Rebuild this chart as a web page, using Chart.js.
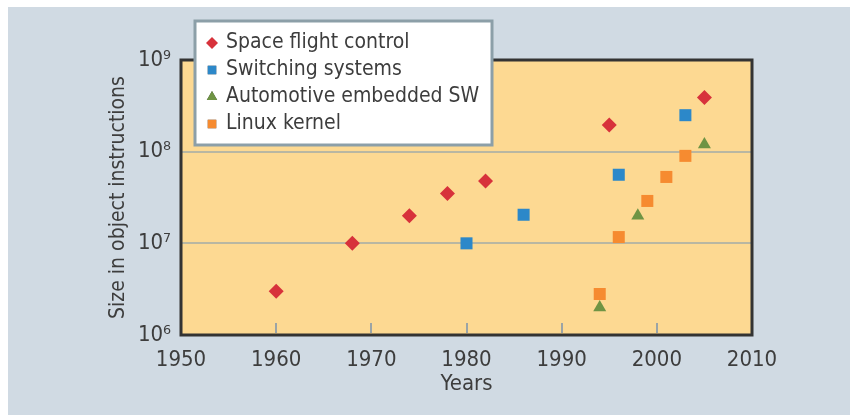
<!DOCTYPE html>
<html lang="en">
<head>
<meta charset="UTF-8">
<title>Software size over the years</title>
<style>
  html, body { margin: 0; padding: 0; background: #fff; }
  canvas { display: block; }
</style>
</head>
<body>
<canvas id="myChart" width="850" height="415"></canvas>
<script src="https://cdn.jsdelivr.net/npm/chart.js@4/dist/chart.umd.min.js"></script>
<script>
  // values
  var seriesNames = ['Space flight control', 'Switching systems', 'Automotive embedded SW', 'Linux kernel'];

  var spaceYears = [1960, 1968, 1974, 1978, 1982, 1995, 2005];
  var spaceSize  = [3e6, 1e7, 2e7, 3.5e7, 4.8e7, 1.95e8, 3.9e8];

  var switchYears = [1980, 1986, 1996, 2003];
  var switchSize  = [1e7, 2.05e7, 5.6e7, 2.5e8];

  var autoYears = [1994, 1998, 2005];
  var autoSize  = [2e6, 2e7, 1.2e8];

  var linuxYears = [1994, 1996, 1999, 2001, 2003];
  var linuxSize  = [2.8e6, 1.17e7, 2.9e7, 5.3e7, 9e7];

  var yearTicks = [1950, 1960, 1970, 1980, 1990, 2000, 2010];
  var sizeTicks = [1e6, 1e7, 1e8, 1e9];
  var sizeTickLabels = ['10\u2076', '10\u2077', '10\u2078', '10\u2079'];

  var FONT = "'Liberation Sans Narrow', 'DejaVu Sans Condensed', 'Roboto', sans-serif";
  var TEXT = '#3d3d3d';

  function pts(xs, ys) {
    return xs.map(function (x, i) { return { x: x, y: ys[i] }; });
  }

  // background panel, plot fill, frame, inner ticks and the legend box
  var decor = {
    id: 'decor',
    beforeDraw: function (chart) {
      var c = chart.ctx, a = chart.chartArea;
      c.save();
      c.fillStyle = '#ffffff';
      c.fillRect(0, 0, chart.width, chart.height);
      c.fillStyle = '#d0dae3';
      c.fillRect(8, 7, chart.width - 8, chart.height - 7);
      c.fillStyle = '#fdd992';
      c.fillRect(a.left, a.top, a.right - a.left, a.bottom - a.top);
      c.restore();
    },
    afterDatasetsDraw: function (chart) {
      var c = chart.ctx, a = chart.chartArea, xs = chart.scales.x;
      c.save();
      // small ticks pointing into the plot
      c.strokeStyle = '#9ba4a6';
      c.lineWidth = 2;
      yearTicks.slice(1, -1).forEach(function (yr) {
        var px = Math.round(xs.getPixelForValue(yr));
        c.beginPath();
        c.moveTo(px, a.bottom - 2);
        c.lineTo(px, a.bottom - 12);
        c.stroke();
      });
      // frame
      c.strokeStyle = '#333333';
      c.lineWidth = 3;
      c.strokeRect(a.left, a.top, a.right - a.left, a.bottom - a.top);
      c.restore();
    },
    afterDraw: function (chart) {
      var c = chart.ctx;
      var bx = 195, by = 21, bw = 297, bh = 124;
      c.save();
      c.fillStyle = '#ffffff';
      c.fillRect(bx, by, bw, bh);
      c.strokeStyle = '#8c9fa8';
      c.lineWidth = 3;
      c.strokeRect(bx, by, bw, bh);
      c.font = '21px ' + FONT;
      c.textBaseline = 'middle';
      chart.data.datasets.forEach(function (ds, i) {
        var ry = 43 + i * 27;
        Chart.helpers.drawPoint(c, { pointStyle: ds.pointStyle, radius: 6, borderWidth: 0 }, 212, ry);
        c.fillStyle = ds.backgroundColor;
        c.fill();
        c.fillStyle = TEXT;
        c.fillText(ds.label, 226, ry);
      });
      c.restore();
    }
  };

  function createChart() {
    var ctx = document.getElementById('myChart').getContext('2d');
    new Chart(ctx, {
      type: 'scatter',
      data: {
        datasets: [
          { label: seriesNames[0], data: pts(spaceYears, spaceSize), pointStyle: 'rectRot',
            pointRadius: 7.5, backgroundColor: '#d7323b', borderWidth: 0 },
          { label: seriesNames[1], data: pts(switchYears, switchSize), pointStyle: 'rect',
            pointRadius: 8.5, backgroundColor: '#2c88c9', borderWidth: 0 },
          { label: seriesNames[2], data: pts(autoYears, autoSize), pointStyle: 'triangle',
            pointRadius: 7.5, backgroundColor: '#6f9444', borderWidth: 0 },
          { label: seriesNames[3], data: pts(linuxYears, linuxSize), pointStyle: 'rect',
            pointRadius: 8.5, backgroundColor: '#f68b30', borderWidth: 0 }
        ]
      },
      options: {
        responsive: false,
        animation: false,
        layout: { padding: { left: 106, top: 60, right: 98, bottom: 18 } },
        plugins: { legend: { display: false }, tooltip: { enabled: false } },
        scales: {
          x: {
            type: 'linear',
            min: 1950, max: 2010,
            afterFit: function (s) { s.height = 62; },
            afterBuildTicks: function (s) { s.ticks = yearTicks.map(function (v) { return { value: v }; }); },
            grid: { display: false },
            border: { display: false },
            ticks: { color: TEXT, font: { family: FONT, size: 22 }, padding: 4, maxRotation: 0,
                     callback: function (v) { return String(v); } },
            title: { display: true, text: 'Years', color: TEXT, font: { family: FONT, size: 22 }, padding: { top: 0, bottom: 0 } }
          },
          y: {
            type: 'logarithmic',
            min: 1e6, max: 1e9,
            afterFit: function (s) { s.width = 75; },
            afterBuildTicks: function (s) { s.ticks = sizeTicks.map(function (v) { return { value: v }; }); },
            grid: {
              drawTicks: false,
              lineWidth: 2,
              color: function (c) {
                var v = c.tick && c.tick.value;
                return (v === 1e7 || v === 1e8) ? '#b9b7a2' : 'rgba(0,0,0,0)';
              }
            },
            border: { display: false },
            ticks: {
              color: TEXT, font: { family: FONT, size: 22 }, padding: 10,
              callback: function (v) { return sizeTickLabels[sizeTicks.indexOf(v)]; }
            },
            title: { display: true, text: 'Size in object instructions', color: TEXT,
                     font: { family: FONT, size: 21 }, padding: { top: 0, bottom: 0 } }
          }
        }
      },
      plugins: [decor]
    });
  }

  document.addEventListener('DOMContentLoaded', createChart);
</script>
</body>
</html>
